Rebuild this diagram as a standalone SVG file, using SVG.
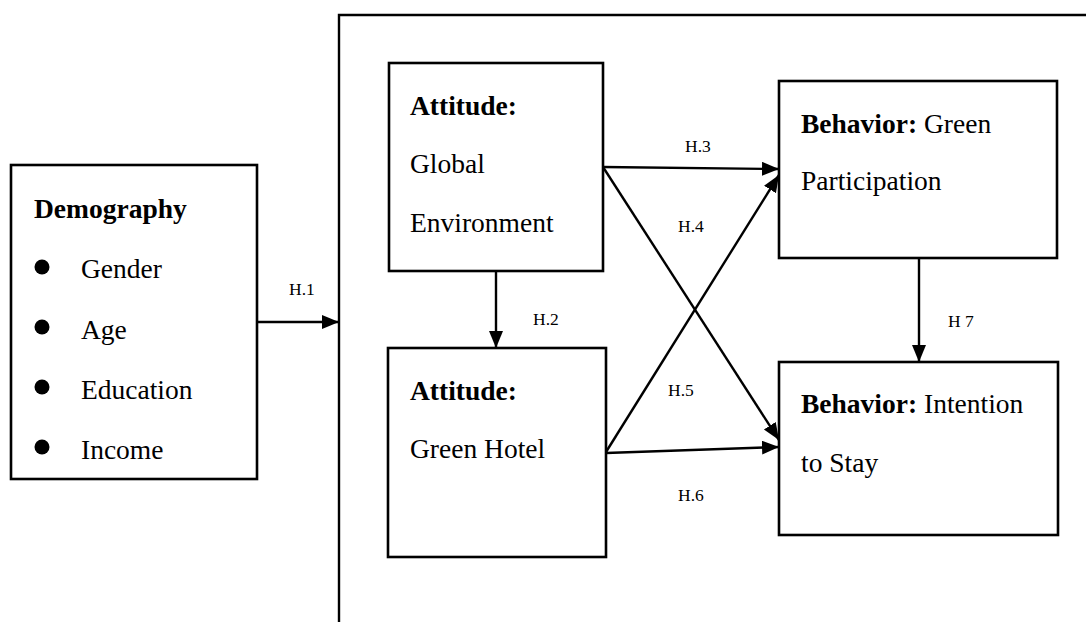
<svg xmlns="http://www.w3.org/2000/svg" width="1086" height="622" viewBox="0 0 1086 622">
<defs>
<marker id="arr" markerUnits="userSpaceOnUse" markerWidth="20" markerHeight="16" refX="17" refY="7" orient="auto">
<path d="M0,0 L17,7 L0,14 z" fill="#000"/>
</marker>
<style>
.box{fill:#fff;stroke:#000;stroke-width:2.6}
.t{font-family:"Liberation Serif","Times New Roman",serif;font-size:27.5px;fill:#000}
.b{font-weight:bold}
.lab{font-family:"Liberation Serif","Times New Roman",serif;font-size:17.5px;fill:#000}
.ln{stroke:#000;stroke-width:2.4;fill:none}
.ar{marker-end:url(#arr)}
</style>
</defs>
<rect width="1086" height="622" fill="#fff"/>
<g id="frame">
<path class="ln" d="M339,622 L339,15 L1086,15"/>
</g>
<g id="demography">
<rect class="box" x="11" y="165" width="246" height="314"/>
<text class="t b" x="34" y="218">Demography</text>
<circle cx="42" cy="267" r="7.5"/>
<text class="t" x="81" y="278">Gender</text>
<circle cx="42" cy="327" r="7.5"/>
<text class="t" x="81" y="339">Age</text>
<circle cx="42" cy="387" r="7.5"/>
<text class="t" x="81" y="399">Education</text>
<circle cx="42" cy="447" r="7.5"/>
<text class="t" x="81" y="459">Income</text>
</g>
<g id="attitude-global">
<rect class="box" x="389" y="63" width="214" height="208"/>
<text class="t b" x="410" y="115">Attitude:</text>
<text class="t" x="410" y="173">Global</text>
<text class="t" x="410" y="232">Environment</text>
</g>
<g id="attitude-hotel">
<rect class="box" x="388" y="348" width="218" height="209"/>
<text class="t b" x="410" y="400">Attitude:</text>
<text class="t" x="410" y="458">Green Hotel</text>
</g>
<g id="behavior-participation">
<rect class="box" x="779" y="81" width="278" height="177"/>
<text class="t" x="801" y="133"><tspan class="b">Behavior:</tspan> Green</text>
<text class="t" x="801" y="190">Participation</text>
</g>
<g id="behavior-intention">
<rect class="box" x="779" y="362" width="279" height="173"/>
<text class="t" x="801" y="413"><tspan class="b">Behavior:</tspan> Intention</text>
<text class="t" x="801" y="472">to Stay</text>
</g>
<g id="connectors">
<line class="ln ar" x1="257" y1="322" x2="339" y2="322"/>
<line class="ln ar" x1="496" y1="271" x2="496" y2="348"/>
<line class="ln ar" x1="603" y1="167" x2="779" y2="169"/>
<line class="ln ar" x1="603" y1="167" x2="779" y2="440"/>
<line class="ln ar" x1="606" y1="452" x2="779" y2="175"/>
<line class="ln ar" x1="606" y1="453" x2="779" y2="447"/>
<line class="ln ar" x1="919" y1="258" x2="919" y2="362"/>
<text class="lab" x="289" y="295">H.1</text>
<text class="lab" x="533" y="325">H.2</text>
<text class="lab" x="685" y="152">H.3</text>
<text class="lab" x="678" y="232">H.4</text>
<text class="lab" x="668" y="396">H.5</text>
<text class="lab" x="678" y="501">H.6</text>
<text class="lab" x="948" y="327">H 7</text>
</g>
</svg>
